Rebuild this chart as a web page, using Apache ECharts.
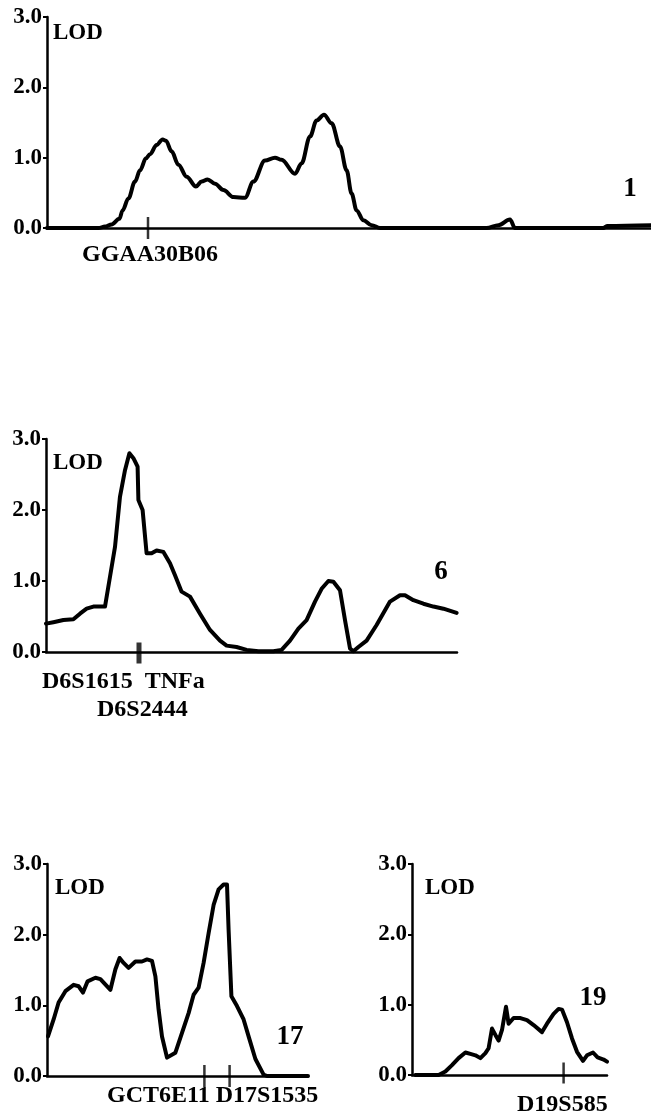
<!DOCTYPE html>
<html><head><meta charset="utf-8">
<script src="https://cdn.jsdelivr.net/npm/echarts@6/dist/echarts.min.js"></script>
<style>html,body{margin:0;padding:0;background:#fff}#c{width:651px;height:1117px}</style>
</head><body><div id="c"></div>
<script>
// Chromosome 1
const chr1Pos=[0,25.7,29,32.3,36.2,37.8,40.7,44,46.5,49.5,51.5,54.8,57.8,59.5,62.3,65.7,69.8,74.5,77.3,80.3,84,88.2,93.2,99,103.2,109,114,117.3,124,127.3,131.5,134.8,138.5,142.3,146.5,149.8,152.3,154.8,158.2,162.3,166.5,219.8,225.7,231.5,234,278.2,280,302];
const chr1Lod=[0,0,0.02,0.05,0.13,0.25,0.42,0.66,0.82,0.99,1.05,1.18,1.26,1.24,1.09,0.90,0.73,0.59,0.66,0.69,0.63,0.54,0.44,0.43,0.66,0.96,1.00,0.97,0.77,0.92,1.30,1.53,1.61,1.49,1.16,0.82,0.49,0.25,0.11,0.04,0,0,0.04,0.12,0,0,0.03,0.04];
const chr1Markers=[50.5];
// Chromosome 6
const chr6Pos=[0,3.7,8.7,13.7,17,20.3,23.7,29.5,32,34.5,37,39.5,41.7,43.7,45.8,46.2,48.3,50.3,52.8,55.3,58.7,62,64.5,67.8,72,77,82,87,90.3,95.3,100.3,106.2,113.7,117.8,122,126.2,130.3,134.5,137.8,141.2,143.7,147,149.5,152,153.7,156.2,160.3,165.3,172,177,179.5,183.7,188.7,193.7,198.7,205.3];
const chr6Lod=[0.40,0.42,0.45,0.46,0.54,0.61,0.64,0.64,1.06,1.48,2.19,2.56,2.80,2.73,2.61,2.14,2.0,1.39,1.39,1.43,1.41,1.25,1.08,0.85,0.78,0.54,0.31,0.16,0.09,0.07,0.03,0.01,0.01,0.03,0.16,0.33,0.45,0.71,0.89,1.0,0.99,0.87,0.45,0.05,0.01,0.07,0.16,0.38,0.71,0.80,0.80,0.73,0.68,0.64,0.61,0.55];
const chr6Markers=[46.5];
// Chromosome 17
const chr17Pos=[0.5,3.3,5.8,9.2,13.3,15.8,18,20.3,24.2,26.7,31.7,34.2,36.3,38.3,40.8,44.2,47.5,50,52.5,54.2,55.8,57.5,60,64.2,67.5,70.8,73.3,75.8,78.3,80.8,83.3,85.8,88.3,90,90.8,92.2,95,98.3,100.8,104.2,108.3,110,130.5];
const chr17Lod=[0.56,0.80,1.04,1.20,1.29,1.27,1.18,1.34,1.39,1.37,1.22,1.51,1.67,1.60,1.53,1.62,1.62,1.65,1.63,1.41,0.94,0.56,0.26,0.33,0.61,0.89,1.15,1.25,1.60,2.02,2.42,2.64,2.71,2.71,2.07,1.13,0.99,0.80,0.56,0.24,0.02,0,0];
const chr17Markers=[78.7,91.3];
// Chromosome 19
const chr19Pos=[1.7,13.3,16.7,20,23.3,26.7,29.2,31.7,34.2,36.7,38.3,40,41.7,43.3,45,47,48.3,50.8,54.2,57.5,60.8,65,67.5,70.8,73.3,75,77.5,80,82.5,85.5,87.5,90.5,92.8,95.8,97.5];
const chr19Lod=[0,0,0.05,0.14,0.24,0.32,0.30,0.28,0.24,0.31,0.38,0.66,0.57,0.49,0.64,0.97,0.73,0.81,0.81,0.78,0.71,0.61,0.73,0.87,0.94,0.93,0.75,0.52,0.33,0.20,0.28,0.32,0.25,0.22,0.19];
const chr19Markers=[75.8];
const lodTickLabels=['0.0','1.0','2.0','3.0'];

const FONT='"Liberation Serif","Times New Roman",serif';
const zip=(a,b)=>a.map((v,i)=>[v,b[i]]);

const panels=[
  {grid:{left:47,top:17,width:604,height:211},xmax:302,pos:chr1Pos,lod:chr1Lod,markers:chr1Markers,smooth:true,tick:[2.5,22],tickOff:0},
  {grid:{left:46,top:439,width:411,height:213},xmax:205.5,pos:chr6Pos,lod:chr6Lod,markers:chr6Markers,smooth:false,tick:[5,21],tickOff:1},
  {grid:{left:47,top:864,width:261,height:212},xmax:130.5,pos:chr17Pos,lod:chr17Lod,markers:chr17Markers,smooth:false,tick:[2.5,22],tickOff:0},
  {grid:{left:412,top:864,width:195,height:211},xmax:97.5,pos:chr19Pos,lod:chr19Lod,markers:chr19Markers,smooth:false,tick:[2.5,21],tickOff:-2}
];

const grid=[],xAxis=[],yAxis=[],series=[];
panels.forEach((p,i)=>{
  grid.push(p.grid);
  xAxis.push({type:'value',gridIndex:i,min:0,max:p.xmax,
    axisLine:{show:true,onZero:true,lineStyle:{color:'#000',width:2.5}},
    axisTick:{show:false},axisLabel:{show:false},splitLine:{show:false}});
  yAxis.push({type:'value',gridIndex:i,min:0,max:3,interval:1,
    axisLine:{show:true,lineStyle:{color:'#000',width:2.5}},
    axisTick:{show:true,length:4,lineStyle:{color:'#000',width:2}},
    axisLabel:{show:true,margin:5,color:'#000',fontFamily:FONT,fontWeight:'bold',fontSize:23,
      formatter:v=>lodTickLabels[Math.round(v)]},
    splitLine:{show:false}});
  series.push({type:'line',xAxisIndex:i,yAxisIndex:i,data:zip(p.pos,p.lod),
    showSymbol:false,symbol:'none',smooth:p.smooth?0.35:false,smoothMonotone:'x',
    lineStyle:{color:'#000',width:4,join:'round',cap:'round'},clip:false,silent:true,z:3});
  series.push({type:'scatter',xAxisIndex:i,yAxisIndex:i,data:p.markers.map(m=>[m,0]),
    symbol:'rect',symbolSize:p.tick,symbolOffset:[0,p.tickOff],
    itemStyle:{color:'#000'},silent:true,z:4});
});

function txt(x,y,text,size,align){
  return {type:'text',x:x,y:y,silent:true,
    style:{text:text,fill:'#000',font:'bold '+size+'px '+FONT,
      textAlign:align||'left',textVerticalAlign:'middle',align:align||'left',verticalAlign:'middle'}};
}
const graphic=[
  txt(53,33,'LOD',23), txt(630,189,'1',27,'center'), txt(150,255,'GGAA30B06',24,'center'),
  txt(53,463,'LOD',23), txt(441,572,'6',27,'center'),
  txt(42,682,'D6S1615  TNFa',24), txt(97,710,'D6S2444',24),
  txt(55,888,'LOD',23), txt(290,1037,'17',27,'center'), txt(107,1096,'GCT6E11 D17S1535',24),
  txt(425,888,'LOD',23), txt(593,998,'19',27,'center'), txt(517,1105,'D19S585',24)
];

const chart=echarts.init(document.getElementById('c'),null,{renderer:'canvas'});
chart.setOption({animation:false,backgroundColor:'#fff',grid,xAxis,yAxis,series,graphic});
</script></body></html>
